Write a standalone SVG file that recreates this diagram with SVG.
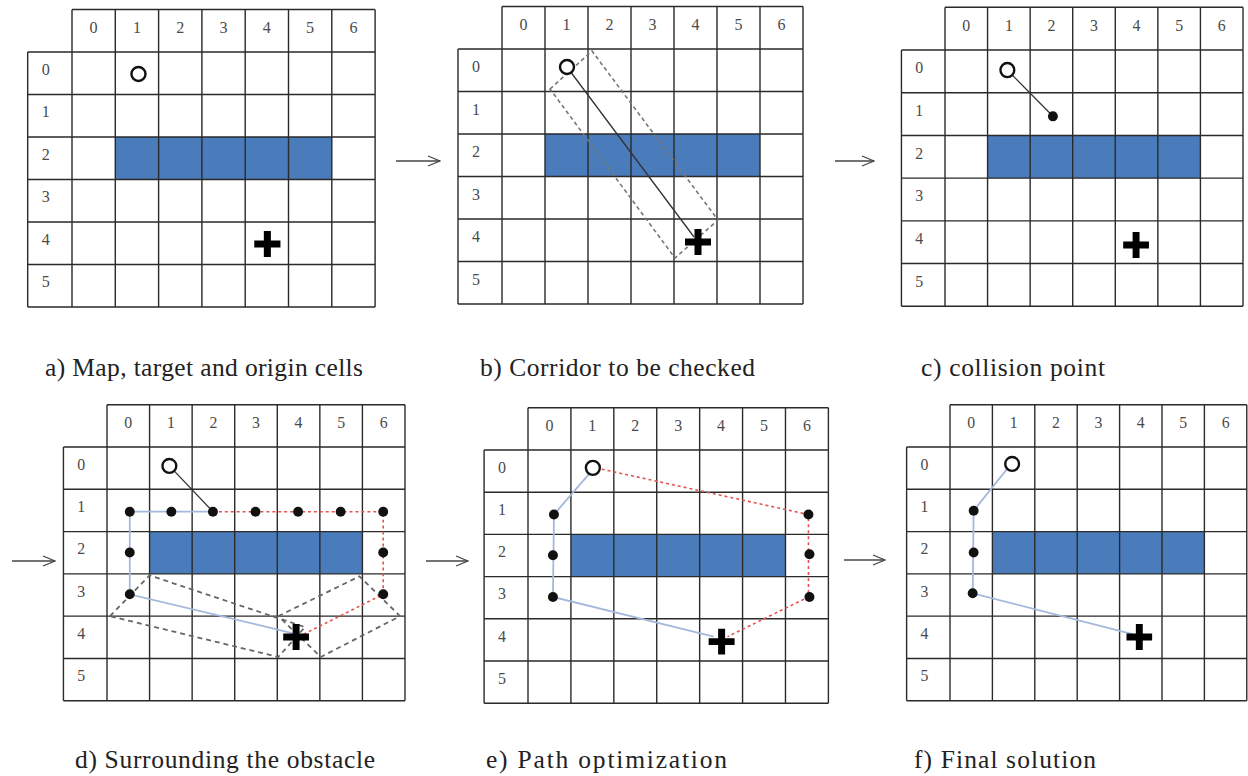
<svg xmlns="http://www.w3.org/2000/svg" xmlns:xlink="http://www.w3.org/1999/xlink" width="1248" height="776" viewBox="0 0 1248 776">
  <style>
    .gl { fill: none; stroke: #2a2a2a; stroke-width: 1.4; }
    .obst { fill: #4a7bbb; }
    .num { font-family: "Liberation Serif", "Times New Roman", serif; font-size: 16px; fill: #4a4a4a; text-anchor: middle; }
    .cap { font-family: "Liberation Serif", "Times New Roman", serif; font-size: 25.5px; fill: #222; }
    .origin { fill: #fff; stroke: #111; stroke-width: 2.4; }
    .dot { fill: #111; }
    .seg { fill: none; stroke: #333; stroke-width: 1.3; }
    .blue { fill: none; stroke: #a3b8dc; stroke-width: 1.8; }
    .red { fill: none; stroke: #e4524f; stroke-width: 1.6; stroke-dasharray: 3 3; }
    .corr { fill: none; stroke: #666; stroke-width: 1.8; stroke-dasharray: 5 4; }
    .corrb { fill: none; stroke: #777; stroke-width: 1.6; stroke-dasharray: 4 3; }
    .step { fill: none; stroke: #444; stroke-width: 1.3; }
  </style>
  <defs>
    <marker id="open-head" viewBox="0 0 14 12" refX="13" refY="6" markerWidth="14" markerHeight="12" markerUnits="userSpaceOnUse" orient="auto">
      <path d="M1,1 L13,6 L1,11" fill="none" stroke="#444" stroke-width="1.3"/>
    </marker>
    <!-- target cell marker: bold plus sign -->
    <path id="target" d="M-3.5,-13 h7 v9.5 h9.5 v7 h-9.5 v9.5 h-7 v-9.5 h-9.5 v-7 h9.5 z" fill="#000"/>
    <!-- 7x6 map with header row / label column; obstacle on row 2, columns 1-5 -->
    <g id="grid">
      <rect class="obst" x="43" y="85" width="215" height="42.5"/>
      <path class="gl" d="M0,-42.5 H301 M-44,0 H301 M-44,42.5 H301 M-44,85 H301 M-44,127.5 H301 M-44,170 H301 M-44,212.5 H301 M-44,255 H301 M-44,0 V255 M0,-42.5 V255 M43,-42.5 V255 M86,-42.5 V255 M129,-42.5 V255 M172,-42.5 V255 M215,-42.5 V255 M258,-42.5 V255 M301,-42.5 V255"/>
      <text class="num" x="21.5" y="-19">0</text>
      <text class="num" x="64.5" y="-19">1</text>
      <text class="num" x="107.5" y="-19">2</text>
      <text class="num" x="150.5" y="-19">3</text>
      <text class="num" x="193.5" y="-19">4</text>
      <text class="num" x="236.5" y="-19">5</text>
      <text class="num" x="279.5" y="-19">6</text>
      <text class="num" x="-26" y="23">0</text>
      <text class="num" x="-26" y="65.5">1</text>
      <text class="num" x="-26" y="108">2</text>
      <text class="num" x="-26" y="150.5">3</text>
      <text class="num" x="-26" y="193">4</text>
      <text class="num" x="-26" y="235.5">5</text>
    </g>
  </defs>

  <rect width="1248" height="776" fill="#fff"/>

  <!-- a) map, target and origin -->
  <g id="panel-a" transform="translate(72,52) scale(1.007,1)">
    <use xlink:href="#grid"/>
    <circle class="origin" cx="66" cy="22" r="7"/>
    <use xlink:href="#target" x="194" y="192"/>
  </g>

  <!-- b) corridor between origin and target -->
  <g id="panel-b" transform="translate(502,49)">
    <use xlink:href="#grid"/>
    <path class="corrb" d="M48,40 L90,2 L216,171 L173,209 Z"/>
    <line class="seg" x1="65" y1="18" x2="192" y2="188"/>
    <circle class="origin" cx="65" cy="18" r="7"/>
    <use xlink:href="#target" x="196" y="193"/>
  </g>

  <!-- c) first collision point -->
  <g id="panel-c" transform="translate(945,50) scale(0.99,1.005)">
    <use xlink:href="#grid"/>
    <line class="seg" x1="63" y1="20" x2="109" y2="66"/>
    <circle class="origin" cx="63" cy="20" r="7"/>
    <circle class="dot" cx="109" cy="66" r="5"/>
    <use xlink:href="#target" x="193" y="194"/>
  </g>

  <!-- d) going round the obstacle -->
  <g id="panel-d" transform="translate(107,447) scale(0.99,0.995)">
    <use xlink:href="#grid"/>
    <path class="corr" d="M3,170 L43,129 L200,181 L173,211 Z"/>
    <path class="corr" d="M173,170 L255,130 L296,170 L216,211 Z"/>
    <path class="blue" d="M107,65 H23 V148 L187,187"/>
    <path class="red" d="M107,65 H279 V148 L197,189"/>
    <line class="seg" x1="63" y1="19" x2="107" y2="65"/>
    <circle class="origin" cx="63" cy="19" r="7"/>
    <circle class="dot" cx="23" cy="65" r="5"/>
    <circle class="dot" cx="65" cy="65" r="5"/>
    <circle class="dot" cx="107" cy="65" r="5"/>
    <circle class="dot" cx="150" cy="65" r="5"/>
    <circle class="dot" cx="193" cy="65" r="5"/>
    <circle class="dot" cx="236" cy="65" r="5"/>
    <circle class="dot" cx="279" cy="65" r="5"/>
    <circle class="dot" cx="23" cy="106" r="5"/>
    <circle class="dot" cx="279" cy="106" r="5"/>
    <circle class="dot" cx="23" cy="148" r="5"/>
    <circle class="dot" cx="279" cy="148" r="5"/>
    <use xlink:href="#target" x="191" y="191"/>
  </g>

  <!-- e) shortened paths on both sides -->
  <g id="panel-e" transform="translate(528,450) scale(0.998,0.993)">
    <use xlink:href="#grid"/>
    <path class="blue" d="M63,22 L26,65 L25,148 L186,188"/>
    <path class="red" d="M68,18 L281,65 V148 L200,188"/>
    <circle class="origin" cx="65" cy="18" r="7"/>
    <circle class="dot" cx="26" cy="65" r="5"/>
    <circle class="dot" cx="25" cy="106" r="5"/>
    <circle class="dot" cx="25" cy="148" r="5"/>
    <circle class="dot" cx="281" cy="65" r="5"/>
    <circle class="dot" cx="282" cy="105" r="5"/>
    <circle class="dot" cx="282" cy="148" r="5"/>
    <use xlink:href="#target" x="194" y="193"/>
  </g>

  <!-- f) final path -->
  <g id="panel-f" transform="translate(950,447) scale(0.986,0.995)">
    <use xlink:href="#grid"/>
    <path class="blue" d="M62,17 L24,64 L23,147 L185,188"/>
    <circle class="origin" cx="63" cy="17" r="7"/>
    <circle class="dot" cx="24" cy="64" r="5"/>
    <circle class="dot" cx="24" cy="106" r="5"/>
    <circle class="dot" cx="23" cy="147" r="5"/>
    <use xlink:href="#target" x="192" y="191"/>
  </g>

  <!-- step arrows between stages -->
  <g id="connectors">
    <line class="step" x1="396" y1="161" x2="440" y2="161" marker-end="url(#open-head)"/>
    <line class="step" x1="835" y1="161" x2="874" y2="161" marker-end="url(#open-head)"/>
    <line class="step" x1="12" y1="561" x2="55" y2="561" marker-end="url(#open-head)"/>
    <line class="step" x1="426" y1="561" x2="468" y2="561" marker-end="url(#open-head)"/>
    <line class="step" x1="844" y1="560" x2="885" y2="560" marker-end="url(#open-head)"/>
  </g>

  <g id="captions">
    <text class="cap" x="45" y="376" textLength="318" lengthAdjust="spacing">a) Map, target and origin cells</text>
    <text class="cap" x="480" y="376" textLength="275" lengthAdjust="spacing">b) Corridor to be checked</text>
    <text class="cap" x="921" y="376" textLength="184" lengthAdjust="spacing">c) collision point</text>
    <text class="cap" x="75" y="768" textLength="300" lengthAdjust="spacing">d) Surrounding the obstacle</text>
    <text class="cap" x="486" y="768" textLength="241" lengthAdjust="spacing">e) Path optimization</text>
    <text class="cap" x="914" y="768" textLength="182" lengthAdjust="spacing">f) Final solution</text>
  </g>
</svg>
